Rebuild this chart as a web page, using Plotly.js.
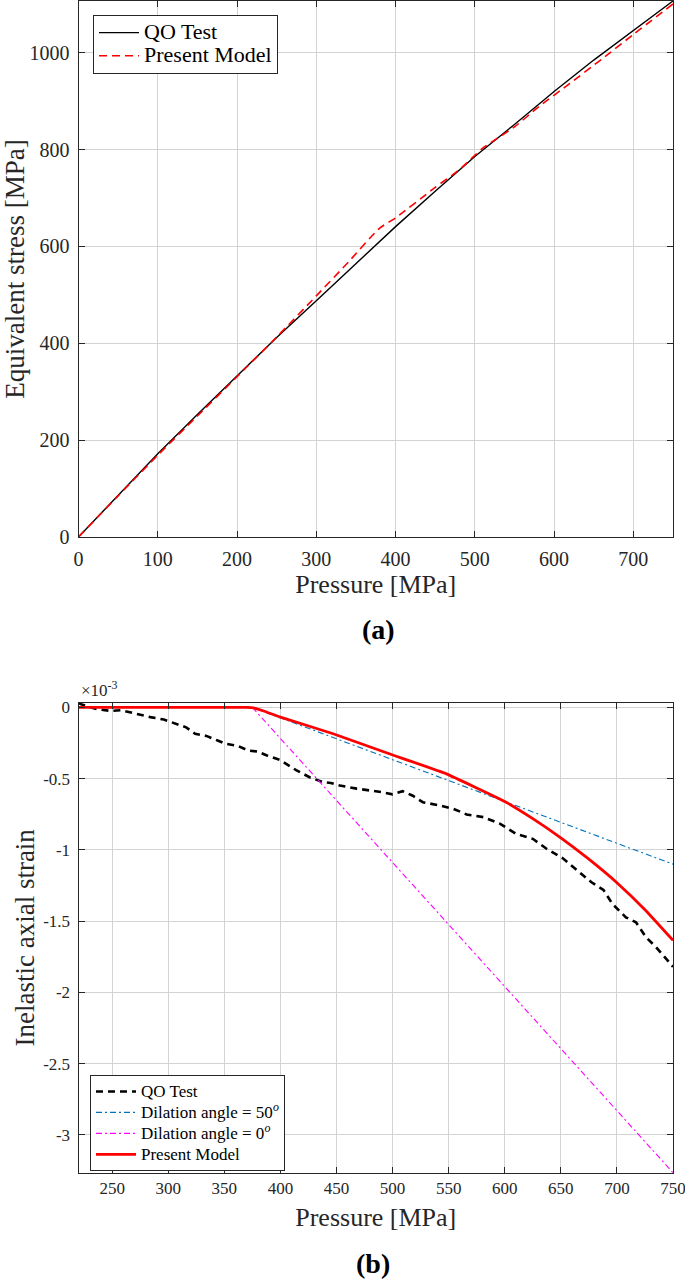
<!DOCTYPE html>
<html>
<head>
<meta charset="utf-8">
<script src="https://cdn.plot.ly/plotly-3.0.1.min.js"></script>
<style>html,body{margin:0;padding:0;background:#fff;}#chart{width:685px;height:1284px;}</style>
</head>
<body>
<div id="chart"></div>
<script>
// ---------- Panel (a) data ----------
const pressureQO_A = [0, 50, 100, 150, 200, 250, 300, 350, 400, 450, 500, 550, 600, 650, 700, 750];
const stressQO_A   = [0, 87, 172, 253, 333, 412, 488, 565, 641, 714, 786, 852, 920, 985, 1046, 1107];
const pressureModel_A = [0, 50, 100, 150, 200, 250, 300, 340, 380, 400, 450, 480, 510, 550, 581, 620, 661, 700, 750];
const stressModel_A   = [0, 85, 169, 250, 331, 413, 498, 567, 638, 659, 722, 758, 803, 847, 889, 937, 988, 1038, 1101];
const xTicksA = [0, 100, 200, 300, 400, 500, 600, 700];
const yTicksA = [0, 200, 400, 600, 800, 1000];

// ---------- Panel (b) data (strain in units of 1e-3) ----------
const pressureQO_B = [220, 223, 235, 249, 258, 265, 275, 284, 296, 308, 316, 324, 334, 344, 351, 362, 371, 380, 388, 400, 414, 426, 438, 445, 453, 468, 480, 490, 500, 509, 518, 527, 542, 554, 566, 581, 596, 610, 625, 637, 652, 667, 677, 688, 696, 708, 717, 726, 735, 744, 750];
const strainQO_B   = [0.03, 0.02, -0.01, -0.025, -0.02, -0.033, -0.05, -0.068, -0.085, -0.115, -0.14, -0.185, -0.2, -0.232, -0.255, -0.27, -0.302, -0.31, -0.337, -0.37, -0.44, -0.49, -0.525, -0.53, -0.548, -0.57, -0.583, -0.594, -0.61, -0.588, -0.62, -0.665, -0.688, -0.711, -0.751, -0.77, -0.817, -0.887, -0.922, -0.99, -1.06, -1.16, -1.225, -1.28, -1.379, -1.473, -1.508, -1.613, -1.683, -1.765, -1.82];
const pressureDil50 = [375, 750];
const strainDil50   = [0, -1.10];
const pressureDil0  = [375, 750];
const strainDil0    = [0, -3.265];
const pressureModel_B = [220, 370, 376, 385, 400, 447, 497, 548, 575, 600, 625, 650, 675, 700, 725, 750];
const strainModel_B   = [0, 0, -0.003, -0.025, -0.068, -0.185, -0.325, -0.466, -0.565, -0.66, -0.78, -0.915, -1.065, -1.23, -1.42, -1.635];
const xTicksB = [250, 300, 350, 400, 450, 500, 550, 600, 650, 700, 750];
const yTicksB = [0, -0.5, -1, -1.5, -2, -2.5, -3];
const yTickTextB = ['0', '-0.5', '-1', '-1.5', '-2', '-2.5', '-3'];

const FONT = 'Liberation Serif';
const AX = '#262626';
const GRID = '#d3d3d3';

function legendName(txt, px) {
  return '<span style="font-size:' + px + 'px">' + txt + '</span>';
}

const traces = [
  {x: pressureQO_A, y: stressQO_A, type: 'scatter', mode: 'lines', name: legendName('QO Test', 22),
   line: {color: '#000000', width: 1.4}, xaxis: 'x', yaxis: 'y', legend: 'legend'},
  {x: pressureModel_A, y: stressModel_A, type: 'scatter', mode: 'lines', name: legendName('Present Model', 22),
   line: {color: '#ff0000', width: 1.6, dash: '8px,5px', shape: 'spline', smoothing: 0.6}, xaxis: 'x', yaxis: 'y', legend: 'legend'},
  {x: pressureQO_B, y: strainQO_B, type: 'scatter', mode: 'lines', name: legendName('QO Test', 17),
   line: {color: '#000000', width: 2.6, dash: '7px,5px'}, xaxis: 'x2', yaxis: 'y2', legend: 'legend2'},
  {x: pressureDil50, y: strainDil50, type: 'scatter', mode: 'lines', name: legendName('Dilation angle = 50<sup><i>o</i></sup>', 17),
   line: {color: '#0072BD', width: 1.1, dash: '6px,3px,2px,3px'}, xaxis: 'x2', yaxis: 'y2', legend: 'legend2'},
  {x: pressureDil0, y: strainDil0, type: 'scatter', mode: 'lines', name: legendName('Dilation angle = 0<sup><i>o</i></sup>', 17),
   line: {color: '#ff00ff', width: 1.1, dash: '6px,3px,2px,3px'}, xaxis: 'x2', yaxis: 'y2', legend: 'legend2'},
  {x: pressureModel_B, y: strainModel_B, type: 'scatter', mode: 'lines', name: legendName('Present Model', 17),
   line: {color: '#ff0000', width: 2.8, shape: 'spline', smoothing: 0.4}, xaxis: 'x2', yaxis: 'y2', legend: 'legend2'}
];

const H = 1284, W = 685;
const xDom = [78.5 / W, 673 / W];
function axisBase() {
  return {
    ticks: 'inside', ticklen: 6, tickcolor: AX, showline: true, mirror: 'ticks',
    linecolor: AX, linewidth: 1, showgrid: true, gridcolor: GRID, gridwidth: 1,
    zeroline: false, automargin: false, ticklabelstandoff: 4, ticklabeloverflow: 'allow'
  };
}

const layout = {
  width: W, height: H,
  margin: {l: 0, r: 0, t: 0, b: 0},
  paper_bgcolor: '#ffffff', plot_bgcolor: '#ffffff',
  font: {family: FONT, color: AX},
  showlegend: true,
  xaxis: Object.assign(axisBase(), {
    domain: xDom, anchor: 'y', range: [0, 750], tickvals: xTicksA,
    tickfont: {size: 20, family: FONT, color: AX},
    title: {text: 'Pressure [MPa]', font: {size: 26, family: FONT, color: AX}, standoff: 4}
  }),
  yaxis: Object.assign(axisBase(), {
    domain: [1 - 537 / H, 1 - 1 / H], anchor: 'x', range: [0, 1107], tickvals: yTicksA,
    tickfont: {size: 20, family: FONT, color: AX},
    title: {text: 'Equivalent stress [MPa]', font: {size: 27, family: FONT, color: AX}, standoff: 6}
  }),
  xaxis2: Object.assign(axisBase(), {
    domain: xDom, anchor: 'y2', range: [220, 750], tickvals: xTicksB, ticklabelstandoff: 0,
    tickfont: {size: 17, family: FONT, color: AX},
    title: {text: 'Pressure [MPa]', font: {size: 26, family: FONT, color: AX}, standoff: 10}
  }),
  yaxis2: Object.assign(axisBase(), {
    domain: [1 - 1172.7 / H, 1 - 703 / H], anchor: 'x2', range: [-3.265, 0.031],
    tickvals: yTicksB, ticktext: yTickTextB,
    tickfont: {size: 17, family: FONT, color: AX},
    title: {text: 'Inelastic axial strain', font: {size: 27, family: FONT, color: AX}, standoff: 0}
  }),
  legend: {
    x: 93 / W, y: 1 - 15 / H, xanchor: 'left', yanchor: 'top',
    bgcolor: '#ffffff', bordercolor: AX, borderwidth: 1,
    font: {size: 15.5, family: FONT, color: '#000'}, tracegroupgap: 0, itemwidth: 40
  },
  legend2: {
    x: 90 / W, y: 1 - 1075 / H, xanchor: 'left', yanchor: 'top',
    bgcolor: '#ffffff', bordercolor: AX, borderwidth: 1,
    font: {size: 13.8, family: FONT, color: '#000'}, tracegroupgap: 0, itemwidth: 40
  },
  annotations: [
    {xref: 'paper', yref: 'paper', x: 79 / W, y: 1 - 689 / H, xanchor: 'left', yanchor: 'middle',
     text: '×10<sup>-3</sup>', showarrow: false, font: {size: 17, family: FONT, color: AX}},
    {xref: 'paper', yref: 'paper', x: 378 / W, y: 1 - 629 / H, xanchor: 'center', yanchor: 'middle',
     text: '<b>(a)</b>', showarrow: false, font: {size: 28, family: FONT, color: '#000'}},
    {xref: 'paper', yref: 'paper', x: 373 / W, y: 1 - 1263 / H, xanchor: 'center', yanchor: 'middle',
     text: '<b>(b)</b>', showarrow: false, font: {size: 28, family: FONT, color: '#000'}}
  ]
};

Plotly.newPlot('chart', traces, layout, {displayModeBar: false, staticPlot: true});
</script>
</body>
</html>
